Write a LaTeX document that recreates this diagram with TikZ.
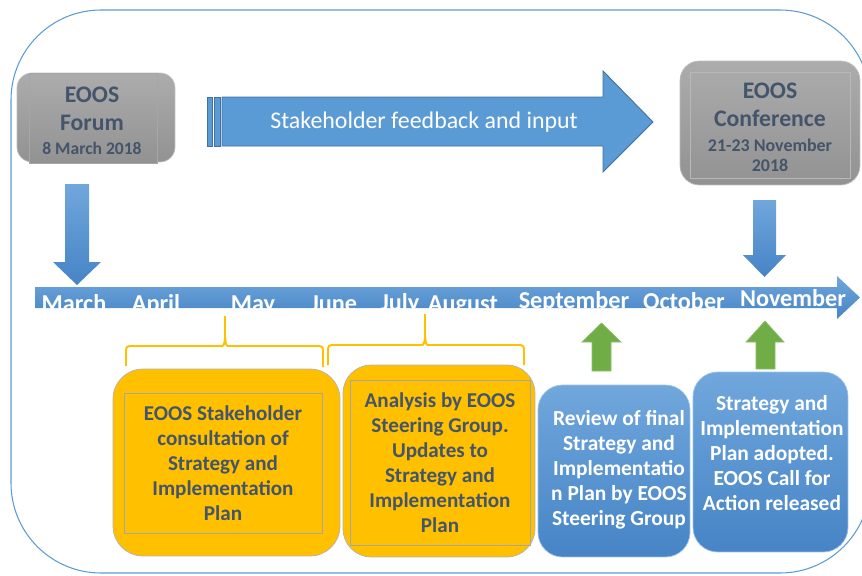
\documentclass[tikz,border=0pt]{standalone}
\usepackage{fontspec}
\setmainfont{Carlito}
\definecolor{framecolor}{RGB}{91, 155, 213}
\definecolor{eoosblue}{RGB}{91, 155, 213}
\definecolor{eoosdark}{RGB}{65, 113, 156}
\definecolor{bluetop}{RGB}{112, 167, 220}
\definecolor{bluebottom}{RGB}{70, 132, 198}
\definecolor{eoosgold}{RGB}{255, 192, 0}
\definecolor{eoosgreen}{RGB}{112, 173, 71}
\definecolor{slatetext}{RGB}{68, 84, 106}
\definecolor{graytop}{RGB}{172, 172, 172}
\definecolor{graybottom}{RGB}{146, 146, 146}
\usetikzlibrary{positioning, calc}

\begin{document}
\begin{tikzpicture}[x=0.02cm, y=-0.02cm,
  eventbox/.style={top color=graytop, bottom color=graybottom, draw=graytop!80!white, line width=0.4pt, inner sep=0pt},
  eventtext/.style={text=slatetext, font=\bfseries\fontsize{13.5}{16}\selectfont, align=center, inner sep=0pt},
  goldbox/.style={fill=eoosgold, draw=gray!60, line width=0.4pt, rounded corners=17pt, inner sep=0pt},
  goldinner/.style={draw=gray!70, line width=0.4pt, inner sep=0pt, text=slatetext, font=\bfseries\fontsize{12}{14.2}\selectfont, align=center},
  bluebox/.style={top color=bluetop, bottom color=bluebottom, draw=bluetop!70!white, line width=0.4pt, rounded corners=14pt, inner sep=0pt},
  bluetext/.style={text=white, font=\bfseries\fontsize{12.2}{14.2}\selectfont, align=center, inner sep=0pt},
  monthlabel/.style={text=white, font=\bfseries\fontsize{13.8}{16}\selectfont, anchor=base, inner sep=0pt},
  bracket/.style={draw=eoosgold, line width=1.1pt},
  greenarrow/.style={fill=eoosgreen, draw=eoosgreen!80!white, line width=0.4pt}
]
  \useasboundingbox (0,0) rectangle (862,575);

  % Frame
  \draw[framecolor, line width=0.6pt, rounded corners=1.8cm] (11,10) rectangle (870,573);

  % Forum
  \node[eventbox, rounded corners=8.5pt, minimum width=3.16cm, minimum height=1.78cm] (forumbg) at (96,117.5) {};
  \node[eventbox, draw=gray!70, minimum width=2.56cm, minimum height=1.8cm] (forum) at (93,118) {};
  \node[eventtext] (forumtext) at (92,121) {EOOS\\Forum\\[-2.5pt]{\fontsize{10}{12}\selectfont 8 March 2018}};

  % Conference
  \node[eventbox, rounded corners=11pt, minimum width=3.6cm, minimum height=2.48cm] (conference) at (770,123) {};
  \draw[graytop!85!white, line width=0.3pt] (690,72) rectangle (850,178);
  \node[eventtext] (conftext) at (770,127) {EOOS\\Conference\\[-1.5pt]{\fontsize{10.2}{12}\selectfont 21-23 November}\\[-5pt]{\fontsize{10.2}{12}\selectfont 2018}};

  % Feedback arrow
  \filldraw[fill=eoosblue, draw=eoosdark, line width=0.5pt] (207,97) rectangle (212,146) (214,97) rectangle (220,146);
  \filldraw[fill=eoosblue, draw=eoosdark, line width=0.5pt] (222,97) -- (603,97) -- (603,71) -- (653,122) -- (603,172) -- (603,146) -- (222,146) -- cycle;
  \node[text=white, font=\fontsize{13.6}{16}\selectfont] (feedback) at (424,122) {Stakeholder feedback and input};

  % Down arrows
  \shade[top color=bluetop, bottom color=bluebottom] (65,184) -- (89,184) -- (89,262) -- (101,262) -- (77,285) -- (53,262) -- (65,262) -- cycle;
  \shade[top color=bluetop, bottom color=bluebottom] (753,200) -- (776,200) -- (776,255) -- (786,255) -- (764.5,277) -- (743,255) -- (753,255) -- cycle;

  % Timeline
  \shade[top color=bluetop, bottom color=bluebottom] (35,287) -- (837,287) -- (837,276) -- (860,297.5) -- (837,319) -- (837,308) -- (35,308) -- cycle;
  \begin{scope}
    \clip (35,287) -- (837,287) -- (837,276) -- (860,297.5) -- (837,319) -- (837,308) -- (35,308) -- cycle;
    \foreach \month/\x/\y in {March/74/311, April/156/311, May/253/311, June/334/311, July/400/310, August/463/311,
                             September/574/308, October/684/309, November/793/306}
      \node[monthlabel] (m-\month) at (\x,\y) {\month};
  \end{scope}

  % Brackets
  \draw[bracket, rounded corners=2pt] (126,366) |- (219,346) to[out=0, in=-90] (225,334) -- (225,316);
  \draw[bracket, rounded corners=2pt] (225,334) to[out=-90, in=180] (231,346) -| (323,367);
  \draw[bracket, rounded corners=2pt] (328,365) |- (419,345) to[out=0, in=-90] (425,333) -- (425,314);
  \draw[bracket, rounded corners=2pt] (425,333) to[out=-90, in=180] (431,345) -| (524,365);

  % Consultation and analysis
  \node[goldbox, minimum width=4.54cm, minimum height=3.74cm] (consultbg) at (226.5,462.5) {};
  \node[goldinner, minimum width=3.96cm, minimum height=2.8cm] (consult) at (223,463) {EOOS Stakeholder\\consultation of\\Strategy and\\Implementation\\Plan};
  \node[goldbox, rounded corners=16pt, minimum width=3.84cm, minimum height=3.84cm] (analysisbg) at (439,461) {};
  \node[goldinner, minimum width=3.6cm, minimum height=3.3cm] (analysis) at (440,462.5) {Analysis by EOOS\\Steering Group.\\Updates to\\Strategy and\\Implementation\\Plan};

  % Green arrows
  \filldraw[greenarrow] (592,371) -- (611,371) -- (611,342) -- (621,342) -- (601.5,323) -- (582,342) -- (592,342) -- cycle;
  \filldraw[greenarrow] (756,369) -- (775,369) -- (775,342) -- (784,342) -- (765,321) -- (746,342) -- (756,342) -- cycle;

  % Review and adoption
  \node[bluebox, minimum width=3.04cm, minimum height=3.44cm] (review) at (614,471) {};
  \node[bluetext] (reviewtext) at (619,470) {Review of final\\Strategy and\\Implementatio\\n Plan by EOOS\\Steering Group};
  \node[bluebox, minimum width=3.1cm, minimum height=3.6cm] (adopted) at (770.5,462) {};
  \node[bluetext] (adoptedtext) at (772,453) {Strategy and\\Implementation\\Plan adopted.\\EOOS Call for\\Action released};
\end{tikzpicture}
\end{document}
